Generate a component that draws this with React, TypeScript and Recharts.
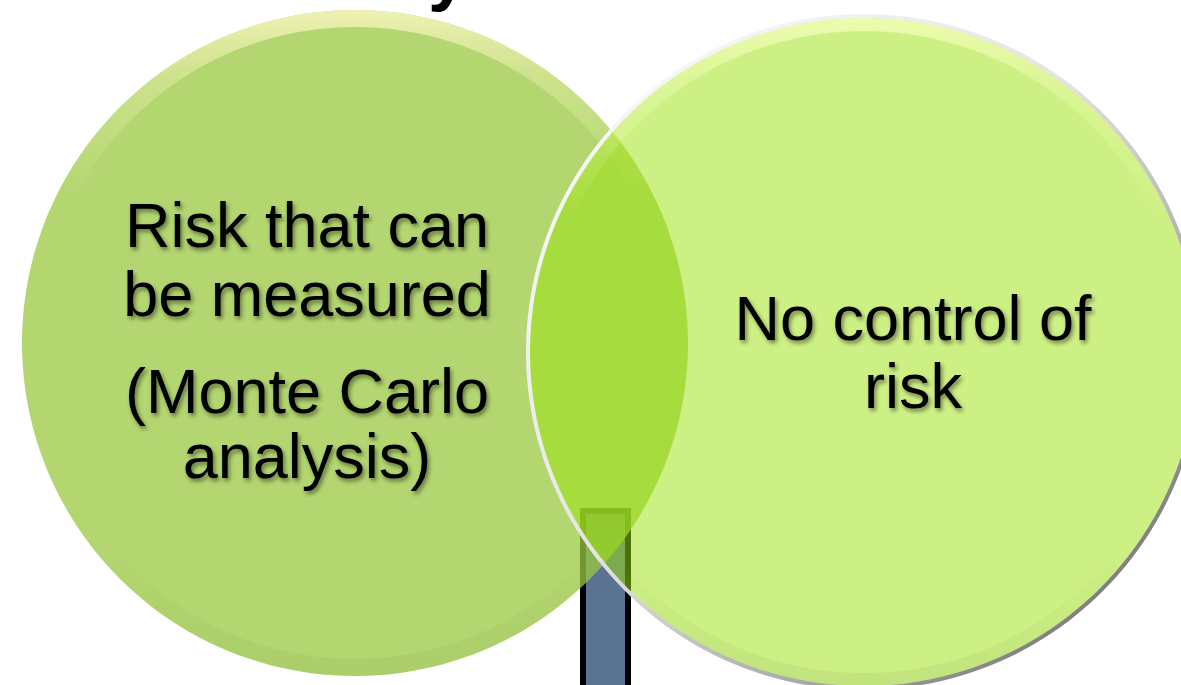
import { PieChart, Pie, Cell } from 'recharts';

// the two sets of the diagram, one slice each
const measuredSet = [{ name: 'Risk that can be measured', value: 1 }];
const uncontrolledSet = [{ name: 'No control of risk', value: 1 }];

// text lines written inside each circle
const measuredLines = ['Risk that can', 'be measured', '(Monte Carlo', 'analysis)'];
const uncontrolledLines = ['No control of', 'risk'];
const titleText = 'Uncertainty';

const FONT = '"Liberation Sans", Arial, sans-serif';

function MeasuredLabel(props: any) {
  const { cx, cy } = props;
  const x = cx - 48;
  const base = [cy - 96, cy - 27, cy + 70, cy + 135];
  return (
    <g filter="url(#txtShadow)">
      {measuredLines.map((line, i) => (
        <text key={i} x={x} y={base[i]} textAnchor="middle" fontFamily={FONT} fontSize={63} fill="#000">
          {line}
        </text>
      ))}
    </g>
  );
}

function UncontrolledLabel(props: any) {
  const { cx, cy } = props;
  const x = cx + 49;
  const base = [cy - 12, cy + 56];
  return (
    <g filter="url(#txtShadow)">
      {uncontrolledLines.map((line, i) => (
        <text key={i} x={x} y={base[i]} textAnchor="middle" fontFamily={FONT} fontSize={63} fill="#000">
          {line}
        </text>
      ))}
    </g>
  );
}

export default function App() {
  return (
    <div style={{ position: 'fixed', left: 0, top: 0, width: 1181, height: 685, background: '#fff', overflow: 'hidden' }}>
      {/* pillar and cut-off title, behind the circles */}
      <svg width={1181} height={685} style={{ position: 'absolute', left: 0, top: 0 }}>
        <rect x={583} y={511} width={45} height={200} fill="#5b7393" stroke="#000" strokeWidth={6} />
        <text x={468} y={-3} textAnchor="end" fontFamily={FONT} fontWeight="bold" fontSize={72} fill="#000">
          {titleText}
        </text>
      </svg>
      <div style={{ position: 'absolute', left: 0, top: 0 }}>
        <PieChart width={1181} height={685} margin={{ top: 0, right: 0, bottom: 0, left: 0 }}>
          <defs>
            <filter id="txtShadow" x="-10%" y="-30%" width="120%" height="160%">
              <feDropShadow dx={2} dy={3} stdDeviation={2} floodColor="#000" floodOpacity={0.45} />
            </filter>
            <linearGradient id="leftRim" x1="0" y1="0" x2="0" y2="1">
              <stop offset="0%" stopColor="#f6f4bc" stopOpacity={0.9} />
              <stop offset="10%" stopColor="#eef0b0" stopOpacity={0.45} />
              <stop offset="28%" stopColor="#eef0b0" stopOpacity={0} />
              <stop offset="80%" stopColor="#8aa850" stopOpacity={0} />
              <stop offset="100%" stopColor="#8aa850" stopOpacity={0.18} />
            </linearGradient>
            <linearGradient id="rightRim" x1="0" y1="0" x2="0" y2="1">
              <stop offset="0%" stopColor="#f4ffb8" stopOpacity={0.8} />
              <stop offset="12%" stopColor="#f4ffb8" stopOpacity={0.3} />
              <stop offset="30%" stopColor="#f4ffb8" stopOpacity={0} />
              <stop offset="80%" stopColor="#90b060" stopOpacity={0} />
              <stop offset="100%" stopColor="#90b060" stopOpacity={0.2} />
            </linearGradient>
            <linearGradient id="rightEdge" x1="0" y1="0" x2="1" y2="1">
              <stop offset="0%" stopColor="#ffffff" />
              <stop offset="45%" stopColor="#e4e4e4" />
              <stop offset="70%" stopColor="#a8a8a8" />
              <stop offset="100%" stopColor="#5a5a5a" />
            </linearGradient>
          </defs>
          <Pie
            data={measuredSet}
            dataKey="value"
            cx={355}
            cy={343}
            outerRadius={333}
            startAngle={90}
            endAngle={-270}
            stroke="none"
            isAnimationActive={false}
          >
            {measuredSet.map((d, i) => (
              <Cell key={i} fill="#99c840" fillOpacity={0.75} />
            ))}
          </Pie>
          <Pie
            data={measuredSet}
            dataKey="value"
            cx={355}
            cy={343}
            innerRadius={316}
            outerRadius={333}
            startAngle={90}
            endAngle={-270}
            stroke="none"
            fill="url(#leftRim)"
            isAnimationActive={false}
          />
          <Pie
            data={uncontrolledSet}
            dataKey="value"
            cx={864}
            cy={352}
            outerRadius={335}
            startAngle={90}
            endAngle={-270}
            stroke="none"
            isAnimationActive={false}
          >
            {uncontrolledSet.map((d, i) => (
              <Cell key={i} fill="#9be10b" fillOpacity={0.5} />
            ))}
          </Pie>
          <Pie
            data={uncontrolledSet}
            dataKey="value"
            cx={864}
            cy={352}
            innerRadius={321}
            outerRadius={334}
            startAngle={90}
            endAngle={-270}
            stroke="none"
            fill="url(#rightRim)"
            isAnimationActive={false}
          />
          <Pie
            data={uncontrolledSet}
            dataKey="value"
            cx={864}
            cy={352}
            innerRadius={334}
            outerRadius={338}
            startAngle={90}
            endAngle={-270}
            stroke="none"
            fill="url(#rightEdge)"
            isAnimationActive={false}
          />
          <Pie
            data={measuredSet}
            dataKey="value"
            cx={355}
            cy={343}
            outerRadius={1}
            fill="none"
            stroke="none"
            label={MeasuredLabel}
            labelLine={false}
            isAnimationActive={false}
          />
          <Pie
            data={uncontrolledSet}
            dataKey="value"
            cx={864}
            cy={352}
            outerRadius={1}
            fill="none"
            stroke="none"
            label={UncontrolledLabel}
            labelLine={false}
            isAnimationActive={false}
          />
        </PieChart>
      </div>
    </div>
  );
}
